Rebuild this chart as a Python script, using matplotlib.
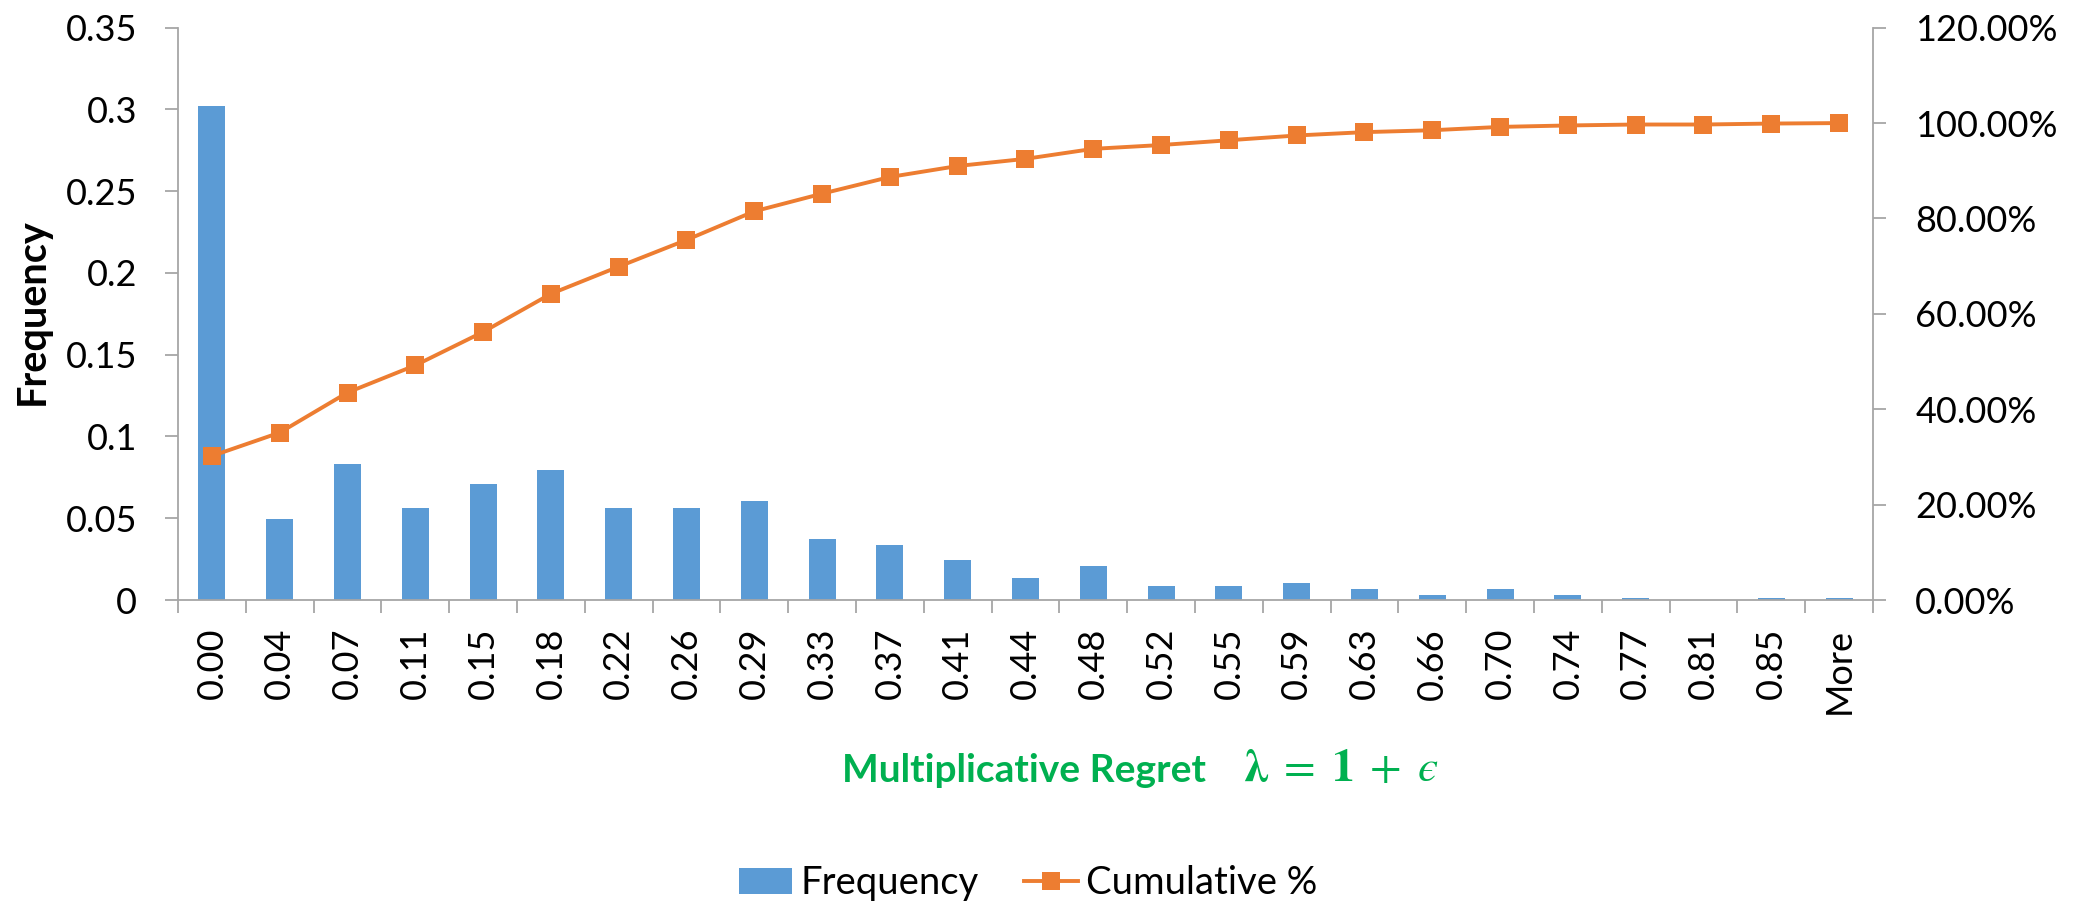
import numpy as np
import matplotlib
matplotlib.use("Agg")
import matplotlib.pyplot as plt
from matplotlib.ticker import MultipleLocator, PercentFormatter, FuncFormatter
from matplotlib.patches import Patch
from matplotlib.lines import Line2D

# Histogram bins (upper edges) of the multiplicative regret
categories = ["0.00", "0.04", "0.07", "0.11", "0.15", "0.18", "0.22", "0.26",
              "0.29", "0.33", "0.37", "0.41", "0.44", "0.48", "0.52", "0.55",
              "0.59", "0.63", "0.66", "0.70", "0.74", "0.77", "0.81", "0.85",
              "More"]

# Relative frequency per bin
frequency = [0.302, 0.0496, 0.0832, 0.0565, 0.0708, 0.0796, 0.0565, 0.0565,
             0.0604, 0.0371, 0.0336, 0.0245, 0.0137, 0.0210, 0.0083, 0.0083,
             0.0102, 0.0067, 0.0030, 0.0067, 0.0030, 0.0014, 0.0, 0.0014,
             0.0014]

# Cumulative percentage per bin
cumulative_pct = [30.2, 35.1, 43.5, 49.2, 56.2, 64.2, 69.9, 75.5, 81.5, 85.2,
                  88.7, 91.0, 92.5, 94.6, 95.4, 96.4, 97.4, 98.1, 98.5, 99.2,
                  99.5, 99.7, 99.7, 99.9, 100.0]

BLUE = "#5B9BD5"
ORANGE = "#ED7D31"
GREEN = "#00B050"
GRAY = "#A6A6A6"

plt.rcParams["font.family"] = ["Lato", "DejaVu Sans"]
plt.rcParams["mathtext.fontset"] = "stix"

FS = 26
TICK_LEN = 9.4
W, H = 2082, 905

fig = plt.figure(figsize=(W / 100, H / 100), dpi=100)
ax = fig.add_axes([0.0855, 0.337, 0.8141, 0.6324])

x = np.arange(len(categories))
ax.bar(x, frequency, width=0.4, color=BLUE, zorder=2)

ax.set_xlim(-0.5, len(categories) - 0.5)
ax.set_ylim(0, 0.35)
ax.yaxis.set_major_locator(MultipleLocator(0.05))
ax.yaxis.set_major_formatter(FuncFormatter(lambda v, p: "{:g}".format(round(v, 2))))

ax.set_xticks(x)
ax.set_xticklabels(categories, rotation=90)
ax.set_xticks(np.arange(-0.5, len(categories)), minor=True)
ax.tick_params(axis="x", which="major", length=0, pad=20, labelsize=FS)
ax.tick_params(axis="x", which="minor", length=TICK_LEN, width=1.3, color=GRAY)
ax.tick_params(axis="y", length=TICK_LEN, width=1.3, color=GRAY, pad=20,
               labelsize=FS)

for side in ("top", "right"):
    ax.spines[side].set_visible(False)
for side in ("left", "bottom"):
    ax.spines[side].set_color(GRAY)
    ax.spines[side].set_linewidth(1.3)

ax2 = ax.twinx()
ax2.plot(x, np.array(cumulative_pct) / 100.0, color=ORANGE, lw=2.8,
         marker="s", markersize=12.5, markeredgewidth=0, zorder=3)
ax2.set_ylim(0, 1.2)
ax2.yaxis.set_major_locator(MultipleLocator(0.2))
ax2.yaxis.set_major_formatter(PercentFormatter(1.0, decimals=2))
ax2.tick_params(axis="y", length=TICK_LEN, width=1.3, color=GRAY, pad=21,
                labelsize=FS)
for side in ("top", "left", "bottom"):
    ax2.spines[side].set_visible(False)
ax2.spines["right"].set_color(GRAY)
ax2.spines["right"].set_linewidth(1.3)

# Axis titles
fig.text(32 / W, 1 - 312 / H, "Frequency", rotation=90, ha="center",
         va="center", fontsize=28.5, fontweight="bold")
fig.text(842 / W, 1 - 782 / H, "Multiplicative Regret", ha="left",
         va="baseline", fontsize=28, fontweight="bold", color=GREEN)
fig.text(1243 / W, 1 - 781 / H,
         r"$\boldsymbol{\lambda}\;=\;\mathbf{1}\;+\;\mathit{" + "\u03f5" + r"}$",
         ha="left", va="baseline", fontsize=33, color=GREEN)

# Legend
handles = [Patch(facecolor=BLUE, edgecolor="none"),
           Line2D([0], [0], color=ORANGE, lw=2.8, marker="s", markersize=12.5,
                  markeredgewidth=0)]
fig.legend(handles, ["Frequency", "Cumulative %"], loc="lower center",
           bbox_to_anchor=(1028 / W, -0.034), ncol=2, frameon=False,
           fontsize=27.5, handlelength=1.39, handletextpad=0.21,
           columnspacing=1.2, numpoints=1)

fig.savefig("out.png", dpi=100)
